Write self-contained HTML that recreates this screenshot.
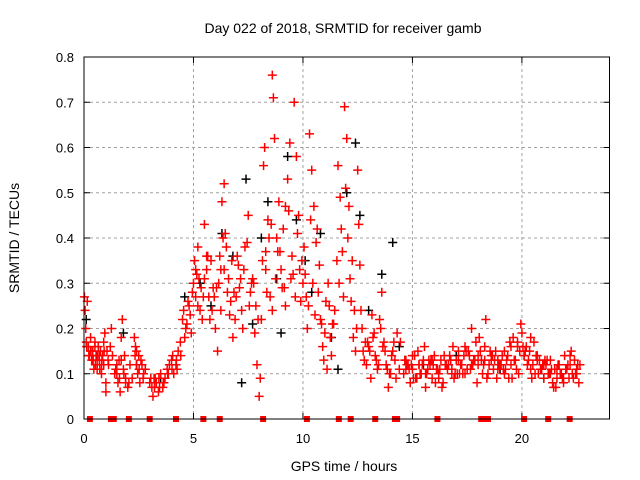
<!DOCTYPE html>
<html><head><meta charset="utf-8"><style>
body{margin:0;background:#fff;}
svg{display:block;font-family:"Liberation Sans",Arial,sans-serif;}
</style></head><body>
<svg id="chart" width="640" height="480" viewBox="0 0 640 480" xmlns="http://www.w3.org/2000/svg">
<rect width="640" height="480" fill="#fff"/>
<g id="grid"></g>
<g id="ticks"></g>
<g id="blackPts"></g>
<g id="redPts"></g>
<g id="zeroPts"></g>
<rect x="84" y="57" width="525.5" height="362" fill="none" stroke="#000" stroke-width="1"/>
<text x="343" y="33" font-size="14" text-anchor="middle">Day 022 of 2018, SRMTID for receiver gamb</text>
<text x="344" y="471" font-size="14" text-anchor="middle">GPS time / hours</text>
<text transform="translate(19,238) rotate(-90)" font-size="14" text-anchor="middle">SRMTID / TECUs</text>
</svg>
<script>
const xTicks=[0,5,10,15,20];
const yTicks=[0,0.1,0.2,0.3,0.4,0.5,0.6,0.7,0.8];
const yTickLabels=["0","0.1","0.2","0.3","0.4","0.5","0.6","0.7","0.8"];
const redT=[0.02,0.05,0.08,0.1,0.15,0.2,0.25,0.3,0.35,0.4,0.45,0.5,0.55,0.6,0.65,0.7,0.75,0.8,0.85,0.9,0.95,1.0,1.05,1.1,1.2,1.25,1.3,
0.3,0.4,0.5,0.6,0.7,0.8,0.9,1.0,
1.4,1.5,1.55,1.6,1.65,1.7,1.75,1.8,1.85,1.9,2.0,2.1,2.2,1.5,1.7,1.9,
2.3,2.35,2.4,2.45,2.5,2.6,2.7,2.8,2.4,2.55,2.65,
3.0,3.1,3.15,3.2,3.3,3.4,3.5,3.6,3.7,3.8,3.9,4.0,4.1,4.2,4.3,4.4,3.25,3.45,3.65,3.85,4.05,4.25,
4.5,4.6,4.7,4.8,4.9,5.0,5.05,5.1,5.15,5.2,5.3,5.4,5.5,5.6,5.7,5.8,5.9,6.0,6.1,6.2,6.3,6.35,6.4,6.5,6.6,6.7,6.8,6.9,7.0,7.1,7.2,7.3,7.5,7.6,7.7,7.8,7.9,8.0,8.05,8.1,8.2,8.25,8.3,8.4,8.5,8.6,8.65,8.7,8.8,8.9,9.0,9.1,9.2,9.3,9.4,9.5,9.6,9.7,9.8,9.9,10.0,10.1,10.2,10.3,10.4,10.5,10.6,10.7,10.8,10.9,11.0,11.1,11.2,11.3,11.4,11.6,11.7,11.8,11.9,12.0,12.1,12.2,12.3,12.4,12.5,12.6,12.7,12.8,12.9,13.0,13.1,13.2,13.3,13.4,13.5,13.6,13.7,13.8,13.9,14.0,14.1,14.2,14.3,14.4,
4.75,5.25,5.45,5.65,5.85,6.05,6.25,6.45,6.65,6.85,7.05,7.25,7.45,7.65,7.85,8.15,8.35,8.55,8.75,8.95,9.15,9.35,9.55,9.75,9.95,10.15,10.35,10.55,10.75,10.95,11.15,11.35,11.55,11.75,11.95,12.15,12.35,12.55,12.75,12.95,13.15,13.35,13.55,13.75,13.95,14.15,
14.6,14.7,14.8,14.9,15.0,15.1,15.2,15.3,15.4,15.5,15.6,15.7,15.8,15.9,16.0,16.1,16.2,16.3,16.4,16.5,16.6,16.7,16.8,16.9,17.0,17.1,17.2,17.3,17.4,17.5,17.6,17.7,17.8,17.9,18.0,18.1,18.2,18.3,18.4,18.5,18.6,18.7,18.8,18.9,19.0,19.1,19.2,19.3,19.4,19.5,19.6,19.7,19.8,19.9,20.0,20.1,20.2,20.3,20.4,20.5,20.6,20.7,20.8,20.9,21.0,21.1,21.2,21.3,21.4,21.5,21.6,21.7,21.8,21.9,22.0,22.1,22.2,22.3,22.4,22.5,22.6,
14.65,14.85,15.05,15.25,15.45,15.65,15.85,16.05,16.25,16.45,16.65,16.85,17.05,17.25,17.45,17.65,17.85,18.05,18.25,18.45,18.65,18.85,19.05,19.25,19.45,19.65,19.85,20.05,20.25,20.45,20.65,20.85,21.05,21.25,21.45,21.65,21.85,22.05,22.25,22.45,22.65,
15.15,15.55,15.95,16.35,16.75,17.15,17.55,17.95,18.35,18.75,19.15,19.55,19.95,20.35,20.75,21.15,21.55,21.95,22.35];
const redV=[0.27,0.24,0.20,0.17,0.26,0.16,0.14,0.18,0.13,0.15,0.11,0.17,0.14,0.12,0.16,0.13,0.15,0.10,0.14,0.12,0.19,0.06,0.15,0.13,0.16,0.20,0.14,
0.15,0.13,0.16,0.11,0.14,0.12,0.17,0.08,
0.10,0.12,0.08,0.13,0.06,0.18,0.22,0.11,0.14,0.09,0.07,0.12,0.09,0.10,0.13,0.08,
0.18,0.16,0.12,0.10,0.14,0.13,0.09,0.11,0.15,0.08,0.12,
0.08,0.07,0.05,0.09,0.08,0.06,0.10,0.07,0.09,0.11,0.12,0.13,0.10,0.12,0.15,0.17,0.09,0.07,0.08,0.10,0.14,0.11,
0.22,0.18,0.21,0.25,0.19,0.30,0.35,0.27,0.32,0.38,0.24,0.22,0.43,0.33,0.27,0.35,0.29,0.20,0.15,0.36,0.48,0.40,0.52,0.38,0.31,0.26,0.18,0.22,0.36,0.29,0.24,0.33,0.45,0.28,0.31,0.19,0.12,0.05,0.09,0.22,0.56,0.60,0.37,0.44,0.27,0.76,0.71,0.62,0.40,0.48,0.33,0.42,0.25,0.53,0.61,0.36,0.70,0.58,0.45,0.26,0.30,0.32,0.20,0.63,0.55,0.47,0.39,0.28,0.22,0.16,0.19,0.11,0.25,0.14,0.21,0.56,0.49,0.37,0.69,0.62,0.47,0.26,0.18,0.15,0.55,0.34,0.20,0.13,0.12,0.16,0.09,0.18,0.14,0.11,0.22,0.28,0.17,0.12,0.07,0.10,0.15,0.13,0.19,0.11,
0.26,0.31,0.27,0.36,0.24,0.29,0.33,0.41,0.23,0.28,0.34,0.20,0.39,0.30,0.25,0.35,0.28,0.43,0.31,0.37,0.29,0.46,0.32,0.41,0.35,0.27,0.44,0.23,0.34,0.13,0.30,0.21,0.35,0.42,0.51,0.31,0.24,0.43,0.15,0.17,0.23,0.13,0.20,0.15,0.10,0.17,
0.10,0.13,0.12,0.08,0.11,0.14,0.09,0.12,0.10,0.13,0.07,0.11,0.12,0.09,0.14,0.11,0.10,0.13,0.08,0.12,0.11,0.14,0.10,0.09,0.13,0.15,0.12,0.10,0.16,0.11,0.14,0.20,0.13,0.17,0.12,0.15,0.10,0.13,0.09,0.12,0.14,0.11,0.15,0.13,0.12,0.14,0.10,0.13,0.09,0.16,0.18,0.13,0.17,0.15,0.19,0.14,0.16,0.13,0.11,0.12,0.10,0.14,0.13,0.11,0.09,0.12,0.10,0.13,0.08,0.11,0.09,0.12,0.10,0.08,0.11,0.12,0.14,0.10,0.13,0.11,0.08,
0.13,0.11,0.09,0.15,0.12,0.10,0.13,0.08,0.11,0.14,0.12,0.16,0.10,0.12,0.15,0.11,0.13,0.18,0.12,0.10,0.14,0.09,0.12,0.11,0.17,0.13,0.10,0.16,0.12,0.09,0.14,0.11,0.13,0.10,0.07,0.12,0.09,0.11,0.15,0.10,0.12,
0.09,0.16,0.12,0.07,0.13,0.10,0.15,0.08,0.22,0.13,0.11,0.09,0.21,0.15,0.10,0.13,0.07,0.14,0.09];
const extraT=[0.12,0.22,0.32,0.42,0.52,0.62,0.72,0.82,0.92,1.12,1.45,1.62,1.82,2.05,2.33,2.52,2.72,3.05,3.22,3.42,3.62,3.82,4.02,4.22,4.42,
4.55,4.65,4.85,4.95,5.1,5.2,5.35,5.5,5.6,5.75,5.95,6.15,6.25,6.4,6.55,6.75,6.95,7.15,7.35,7.55,7.75,7.95,8.3,8.45,8.6,8.85,9.05,9.2,9.45,9.65,9.85,10.05,10.25,10.45,10.65,10.85,11.05,11.25,11.45,11.65,11.85,12.05,12.25,12.45,12.65,12.85,13.05,13.25,13.45,13.65,13.85,14.05,14.25,14.45,
14.75,14.95,15.35,15.75,16.15,16.55,16.95,17.35,17.75,18.15,18.55,18.95,19.35,19.75,20.15,20.55,20.95,21.35,21.75,22.15,22.55,
14.7,15.0,15.3,15.6,15.9,16.2,16.5,16.8,17.1,17.4,17.7,18.0,18.3,18.6,18.9,19.2,19.5,19.8,20.1,20.4,20.7,21.0,21.3,21.6,21.9,22.2,22.5];
const extraV=[0.16,0.14,0.15,0.13,0.12,0.14,0.11,0.13,0.15,0.12,0.11,0.09,0.10,0.08,0.14,0.11,0.10,0.09,0.07,0.09,0.08,0.10,0.11,0.13,0.14,
0.24,0.20,0.23,0.28,0.33,0.25,0.29,0.31,0.36,0.22,0.27,0.30,0.24,0.33,0.28,0.35,0.27,0.31,0.38,0.25,0.30,0.22,0.33,0.40,0.24,0.37,0.29,0.47,0.31,0.27,0.33,0.38,0.25,0.30,0.42,0.21,0.26,0.18,0.24,0.30,0.27,0.40,0.35,0.20,0.24,0.17,0.15,0.19,0.12,0.16,0.11,0.14,0.09,0.17,0.12,
0.12,0.10,0.13,0.11,0.12,0.10,0.14,0.12,0.13,0.15,0.12,0.14,0.11,0.15,0.17,0.12,0.11,0.10,0.09,0.12,0.11,
0.14,0.12,0.10,0.13,0.09,0.12,0.11,0.13,0.10,0.12,0.14,0.16,0.13,0.11,0.15,0.12,0.16,0.14,0.18,0.13,0.12,0.10,0.11,0.09,0.12,0.10,0.13];
const blackT=[0.1,0.6,1.8,2.4,3.5,4.6,5.3,5.8,6.3,6.8,7.2,7.4,7.7,8.1,8.4,8.8,9.0,9.3,9.7,10.1,10.4,10.8,11.3,11.6,12.0,12.4,12.6,13.0,13.6,14.1,14.4,15.5,17.0,19.0,21.0];
const blackV=[0.22,0.14,0.19,0.12,0.09,0.27,0.30,0.25,0.41,0.36,0.08,0.53,0.21,0.40,0.48,0.31,0.19,0.58,0.44,0.35,0.28,0.41,0.18,0.11,0.50,0.61,0.45,0.24,0.32,0.39,0.16,0.12,0.14,0.11,0.09];
const zeroT=[0.27,1.23,1.36,2.05,3.0,4.2,5.45,6.2,8.18,10.18,11.64,12.18,13.3,14.2,14.3,16.14,18.14,18.3,18.45,20.1,21.2,22.18];

const NS="http://www.w3.org/2000/svg";
const X0=84,X1=609.5,Y0=419,Y1=57,XMAX=24,YMAX=0.8;
function xs(t){return X0+(X1-X0)*t/XMAX;}
function ys(v){return Y0-(Y0-Y1)*v/YMAX;}
function mk(tag,attrs,parent){const e=document.createElementNS(NS,tag);for(const k in attrs)e.setAttribute(k,attrs[k]);parent.appendChild(e);return e;}
const grid=document.getElementById('grid'),ticks=document.getElementById('ticks');
xTicks.forEach((t,i)=>{
  const x=xs(t);
  if(t>0){const g=mk('line',{x1:x,y1:Y1,x2:x,y2:Y0,stroke:'#a0a0a0','stroke-dasharray':'3,3','stroke-width':1},grid);
  
  }
  mk('line',{x1:x,y1:Y0,x2:x,y2:Y0-6,stroke:'#000'},ticks);
  mk('line',{x1:x,y1:Y1,x2:x,y2:Y1+6,stroke:'#000'},ticks);
  const l=mk('text',{x:x,y:Y0+24,'font-size':13,'text-anchor':'middle'},ticks);l.textContent=String(t);
  
  
});
yTicks.forEach((v,i)=>{
  const y=ys(v);
  if(v>0&&v<YMAX){const g=mk('line',{x1:X0,y1:y,x2:X1,y2:y,stroke:'#a0a0a0','stroke-dasharray':'3,3','stroke-width':1},grid);
  
  }
  mk('line',{x1:X0,y1:y,x2:X0+6,y2:y,stroke:'#000'},ticks);
  mk('line',{x1:X1,y1:y,x2:X1-6,y2:y,stroke:'#000'},ticks);
  const l=mk('text',{x:X0-10,y:y+5,'font-size':13,'text-anchor':'end'},ticks);l.textContent=yTickLabels[i];
  
  
});
function plus(parent,t,v,color,name){
  const x=xs(t),y=ys(v);
  const p=mk('path',{d:`M${x-4.5},${y}H${x+4.5}M${x},${y-4.5}V${y+4.5}`,stroke:color,'stroke-width':1.5,fill:'none'},parent);
  
  
}
const bp=document.getElementById('blackPts'),rp=document.getElementById('redPts'),zp=document.getElementById('zeroPts');
blackT.forEach((t,i)=>plus(bp,t,blackV[i],'#000','black-point'));
redT.forEach((t,i)=>plus(rp,t,redV[i],'#ff0000','red-point'));
extraT.forEach((t,i)=>plus(rp,t,extraV[i],'#ff0000','red-point'));
zeroT.forEach(t=>{
  const r=mk('rect',{x:xs(t)-3,y:Y0-3,width:6,height:6,fill:'#ff0000'},zp);
  
  
});
</script>
</body></html>
